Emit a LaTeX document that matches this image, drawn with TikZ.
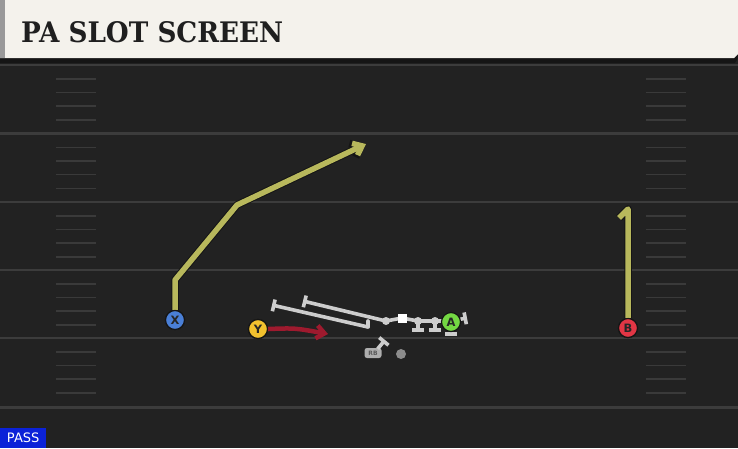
\documentclass[tikz,border=0pt]{standalone}
\usepackage{fontspec}
\usepackage{graphicx}
\newfontfamily\titlefont{DejaVu Serif}
\newfontfamily\labelfont{DejaVu Sans}
\usetikzlibrary{arrows.meta}
\definecolor{bg}{HTML}{222222}
\definecolor{gridc}{HTML}{3C3C3C}
\definecolor{hashc}{HTML}{3A3A3A}
\definecolor{cream}{HTML}{F4F2EC}
\definecolor{routec}{HTML}{B8B85C}
\definecolor{outc}{HTML}{151515}
\definecolor{redroute}{HTML}{9E1A2E}
\definecolor{blueX}{HTML}{4A7FD6}
\definecolor{yellowY}{HTML}{F2C12E}
\definecolor{greenA}{HTML}{74D843}
\definecolor{redB}{HTML}{E23645}
\definecolor{blockc}{HTML}{CDCDCD}
\definecolor{passblue}{HTML}{0B22D8}
\tikzset{
  player/.style={circle, minimum size=19pt, inner sep=0pt, draw=outc, line width=1.2pt,
    font=\labelfont\bfseries\fontsize{11.5}{11.5}\selectfont, text=black!85},
  lineman/.style={circle, minimum size=8pt, inner sep=0pt, fill=blockc},
  blockline/.style={draw=blockc, line width=3.6pt, -{Bar[width=12pt]}},
  blockplain/.style={draw=blockc, line width=3.6pt},
  routeout/.style={draw=outc, line width=7.5pt, line join=round},
  routein/.style={draw=routec, line width=5.5pt, line join=round},
  hashmark/.style={draw=hashc, line width=1.6pt},
  yardline/.style={draw=gridc, line width=2.2pt},
}
\begin{document}
\begin{tikzpicture}[x=1pt,y=-1pt]
\useasboundingbox (0,0) rectangle (738,448);
\fill[bg] (0,0) rectangle (738,448);
% field
\foreach \y in {65,133.5,202,270,338,407.5}
  \draw[yardline] (0,\y) -- (738,\y);
\foreach \y in {65,133.5,202,270,338}
  \foreach \k in {14,27.5,41,55}{
    \draw[hashmark] (56,\y+\k) -- (96,\y+\k);
    \draw[hashmark] (646,\y+\k) -- (686,\y+\k);
  }
% header
\fill[outc] (0,0) -- (738,0) -- (738,58) -- (735,63) -- (0,63) -- cycle;
\fill[cream] (0,0) -- (738,0) -- (738,54) -- (734,58) -- (0,58) -- cycle;
\fill[black!40] (0,0) rectangle (5,58);
\node[anchor=south west, inner sep=0pt, text=black!88] (title) at (21,43)
  {\resizebox{262pt}{21pt}{\titlefont\bfseries PA SLOT SCREEN}};
% pass label
\node[fill=passblue, anchor=south west, minimum width=46pt, minimum height=20pt, inner sep=0pt,
  text=white, font=\labelfont\fontsize{13}{13}\selectfont] (pass) at (0,448) {PASS};
% coordinates
\coordinate (lt) at (368,321);
\coordinate (lthook) at (368,327);
\coordinate (ltend) at (272,305);
\coordinate (lg) at (386,321);
\coordinate (lgend) at (303,301);
\coordinate (rg) at (418,321);
\coordinate (rt) at (435,321);
\coordinate (rgend) at (418,332);
\coordinate (rtend) at (435,332);
\coordinate (ctr) at (402,318);
\coordinate (tend) at (467,318);
\coordinate (aend) at (451,336);
\coordinate (xa) at (175,280);
\coordinate (xb) at (237,205);
\coordinate (xc) at (366,144);
\coordinate (yend) at (328,334);
\coordinate (btop) at (628,209);
\coordinate (bflag) at (619,218);
\coordinate (rbend) at (385,340);
% blocks
\draw[blockline] (lthook) -- (ltend);
\draw[blockplain, line cap=round] (lt) -- (lthook);
\draw[blockline] (lg) -- (lgend);
\draw[blockline] (lg) -- (ctr) -- (rg) -- (rt) -- (451,321) -- (tend);
\draw[blockline] (rg) -- (rgend);
\draw[blockline] (rt) -- (rtend);
\draw[blockline] (451,321) -- (aend);
% linemen
\node[lineman] (lgn) at (lg) {};
\node[lineman] (rgn) at (rg) {};
\node[lineman] (rtn) at (rt) {};
\node[fill=white, minimum size=9pt, inner sep=0pt] (center) at (ctr) {};
% RB and QB
\node[fill=blockc!85!black, rounded corners=2.5pt, minimum width=17pt, minimum height=10pt, inner sep=0pt,
  font=\labelfont\bfseries\fontsize{6}{6}\selectfont, text=black!65] (rb) at (373,353) {RB};
\draw[blockline] (rb.north east) ++(-4,1) -- (rbend);
\node[circle, fill=black!45, minimum size=10pt, inner sep=0pt] (qb) at (401,354) {};
% players
\node[player, fill=greenA] (A) at (451,322) {A};
\node[player, fill=blueX] (X) at (175,320) {X};
\node[player, fill=yellowY] (Y) at (258,329) {Y};
\node[player, fill=redB] (B) at (628,328) {B};
% routes
\draw[routeout, -{Straight Barb[length=9pt,width=15pt]}] (X.north) -- (xa) -- (xb) -- (xc);
\draw[routein, -{Straight Barb[length=8pt,width=13pt]}] (X.north) -- (xa) -- (xb) -- (xc);
\draw[routeout] (B.north) -- (btop) -- (bflag);
\draw[routein] (B.north) -- (btop) -- (bflag);
\draw[draw=redroute, line width=4.5pt, -{Straight Barb[length=8pt,width=13pt]}] (Y.east) .. controls (295,328) .. (yend);
% redraw players over route ends
\node[player, fill=blueX] at (X) {X};
\node[player, fill=redB] at (B) {B};
\node[player, fill=yellowY] at (Y) {Y};
\end{tikzpicture}
\end{document}
